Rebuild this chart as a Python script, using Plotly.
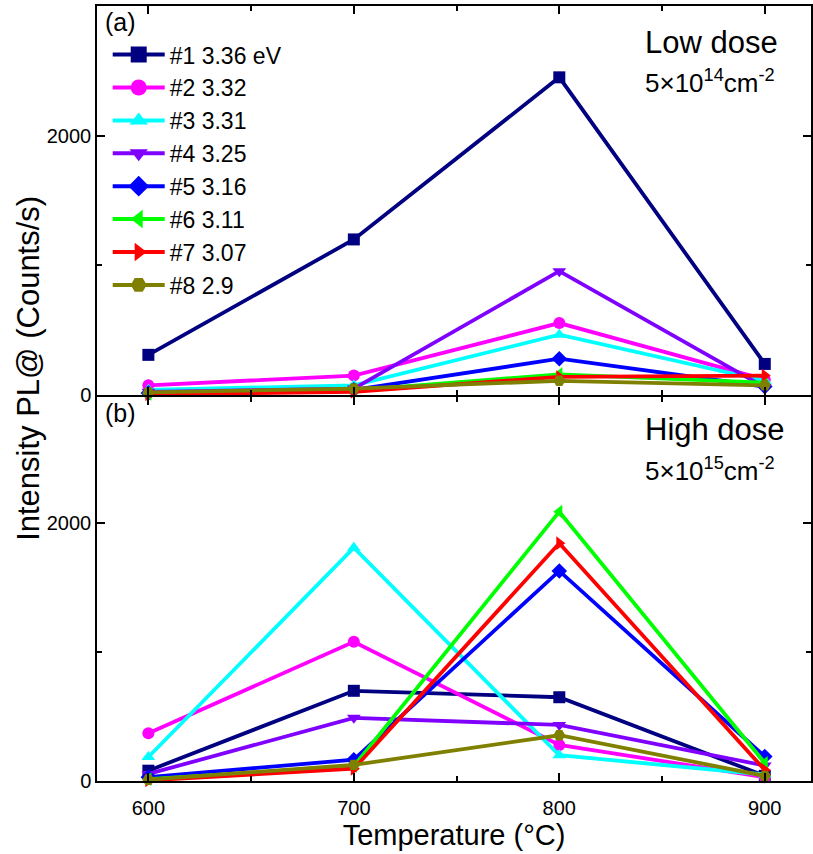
import plotly.graph_objects as go
from plotly.subplots import make_subplots

# Annealing temperatures (°C)
temperatures = [600, 700, 800, 900]

# PL peak labels
peak_labels = ["#1 3.36 eV", "#2 3.32", "#3 3.31", "#4 3.25",
               "#5 3.16", "#6 3.11", "#7 3.07", "#8 2.9"]

# Integrated PL intensity (counts/s), low dose 5e14 cm^-2
low_dose = [
    [310, 1200, 2450, 240],
    [75, 150, 555, 120],
    [40, 75, 465, 110],
    [25, 50, 955, 60],
    [15, 40, 280, 65],
    [10, 35, 160, 95],
    [5, 25, 140, 150],
    [20, 50, 110, 75],
]

# Integrated PL intensity (counts/s), high dose 5e15 cm^-2
high_dose = [
    [80, 700, 650, 40],
    [370, 1080, 280, 30],
    [186, 1810, 200, 50],
    [55, 490, 435, 120],
    [30, 165, 1630, 190],
    [15, 115, 2090, 140],
    [5, 95, 1845, 85],
    [10, 125, 355, 40],
]

colors = ["#000080", "#FF00FF", "#00FFFF", "#8000FF",
          "#0000FF", "#00FF00", "#FF0000", "#808000"]
symbols = ["square", "circle", "triangle-up", "triangle-down",
           "diamond", "triangle-left", "triangle-right", "hexagon2"]

FONT = "Liberation Sans, Arial, sans-serif"

fig = make_subplots(rows=2, cols=1, shared_xaxes=True)

for row, data in ((1, low_dose), (2, high_dose)):
    for vals, col, sym in zip(data, colors, symbols):
        fig.add_trace(go.Scatter(
            x=temperatures, y=vals, mode="lines+markers",
            line=dict(color=col, width=3.8),
            marker=dict(symbol=sym, size=12, color=col),
            cliponaxis=False, showlegend=False,
        ), row=row, col=1)

# legend entries with larger symbols
for name, col, sym in zip(peak_labels, colors, symbols):
    fig.add_trace(go.Scatter(
        x=[None], y=[None], mode="lines+markers", name=name,
        line=dict(color=col, width=4),
        marker=dict(symbol=sym, size=16, color=col),
    ), row=1, col=1)

axis_common = dict(
    showline=True, linecolor="black", linewidth=1.5, mirror="allticks",
    ticks="inside", ticklen=8, tickwidth=1.5, tickcolor="black",
    showgrid=False, zeroline=False,
    tickfont=dict(family=FONT, size=20, color="black"),
)

fig.update_xaxes(range=[575, 922.5], tickvals=temperatures,
                 minor=dict(ticks="inside", ticklen=5, tickwidth=1.5,
                            tickcolor="black", dtick=50, tick0=600),
                 **axis_common)
fig.update_xaxes(showticklabels=False, row=1, col=1)
fig.update_xaxes(title=dict(text="Temperature (°C)",
                            font=dict(family=FONT, size=29, color="black"),
                            standoff=2),
                 ticklabelstandoff=8, row=2, col=1)

fig.update_yaxes(tickvals=[0, 2000],
                 minor=dict(ticks="inside", ticklen=5, tickwidth=1.5,
                            tickcolor="black", dtick=1000, tick0=0),
                 **axis_common)
fig.update_yaxes(range=[0, 3000], domain=[0.498, 1.0], row=1, col=1)
fig.update_yaxes(range=[0, 2980], domain=[0.0, 0.4955], row=2, col=1)

fig.update_layout(
    width=813, height=854,
    margin=dict(l=97, r=0, t=6, b=73),
    paper_bgcolor="white", plot_bgcolor="white",
    font=dict(family=FONT, color="black"),
    showlegend=True,
    legend=dict(x=0.015, y=0.965, xanchor="left", yanchor="top",
                font=dict(family=FONT, size=23, color="black"),
                bgcolor="rgba(0,0,0,0)", itemwidth=52),
)

annotations = [
    dict(text="(a)", x=0.008, y=1.0, xref="paper", yref="paper",
         xanchor="left", yanchor="top", font=dict(size=25)),
    dict(text="(b)", x=0.008, y=0.4955, xref="paper", yref="paper",
         xanchor="left", yanchor="top", font=dict(size=25)),
    dict(text="Low dose", x=0.765, y=0.9535, xref="paper", yref="paper",
         xanchor="left", yanchor="middle", font=dict(size=31)),
    dict(text="5×10<sup>14</sup>cm<sup>-2</sup>", x=0.765, y=0.903,
         xref="paper", yref="paper", xanchor="left", yanchor="middle",
         font=dict(size=26)),
    dict(text="High dose", x=0.765, y=0.453, xref="paper", yref="paper",
         xanchor="left", yanchor="middle", font=dict(size=31)),
    dict(text="5×10<sup>15</sup>cm<sup>-2</sup>", x=0.765, y=0.402,
         xref="paper", yref="paper", xanchor="left", yanchor="middle",
         font=dict(size=26)),
    dict(text="Intensity PL@ (Counts/s)", x=-0.095, y=0.532,
         xref="paper", yref="paper", xanchor="center", yanchor="middle",
         textangle=-90, font=dict(size=31)),
]
for a in annotations:
    a["showarrow"] = False
    a["font"] = dict(family=FONT, color="black", **a["font"])
fig.update_layout(annotations=annotations)

fig.write_html("out.html")
